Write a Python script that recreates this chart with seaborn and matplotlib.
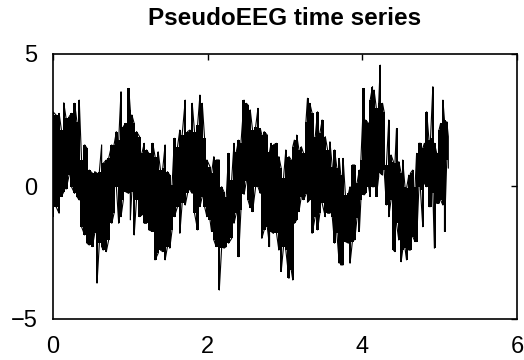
import matplotlib
matplotlib.use("Agg")
import matplotlib.pyplot as plt
import pandas as pd
import seaborn as sns

# Sample times (s) and the per-column extremes of the pseudo-EEG trace
time_s = [0.00, 0.04, 0.08, 0.11, 0.14, 0.17, 0.21, 0.24, 0.28, 0.31, 0.34, 0.37, 0.41, 0.44, 0.47, 0.51,
          0.54, 0.57, 0.60, 0.63, 0.65, 0.69, 0.72, 0.76, 0.79, 0.82, 0.85, 0.88, 0.91, 0.94, 0.98, 1.00,
          1.02, 1.05, 1.08, 1.12, 1.15, 1.18, 1.21, 1.24, 1.29, 1.32, 1.36, 1.39, 1.42, 1.45, 1.48, 1.51,
          1.54, 1.57, 1.61, 1.64, 1.67, 1.71, 1.74, 1.77, 1.80, 1.83, 1.87, 1.90, 1.93, 1.96, 1.99, 2.03,
          2.05, 2.08, 2.11, 2.15, 2.18, 2.21, 2.24, 2.27, 2.31, 2.34, 2.37, 2.40, 2.43, 2.47, 2.50, 2.52,
          2.55, 2.58, 2.62, 2.65, 2.68, 2.70, 2.73, 2.77, 2.80, 2.82, 2.85, 2.89, 2.92, 2.95, 2.98, 3.01, 3.05,
          3.08, 3.10, 3.12, 3.15, 3.18, 3.21, 3.24, 3.27, 3.29, 3.32, 3.35, 3.39, 3.42, 3.45, 3.48, 3.52,
          3.55, 3.58, 3.61, 3.64, 3.67, 3.70, 3.72, 3.75, 3.78, 3.82, 3.84, 3.87, 3.90, 3.93, 3.96, 3.98,
          4.02, 4.04, 4.08,
          4.10, 4.13, 4.15, 4.18, 4.21, 4.23, 4.26, 4.28, 4.31, 4.34, 4.37, 4.40, 4.42, 4.44, 4.47, 4.50,
          4.52, 4.55, 4.57, 4.60, 4.62, 4.65, 4.68, 4.70, 4.73, 4.75, 4.78, 4.80, 4.83, 4.86, 4.88, 4.91,
          4.93, 4.96, 4.99, 5.01, 5.04, 5.06, 5.09, 5.11]

upper = [2.82, 2.70, 2.76, 2.13, 3.16, 2.57, 2.64, 2.76, 3.14, 2.45, 3.26, 1.00, 1.57, 1.44, 0.62, 0.50,
         0.56, 0.50, 0.56, 1.57, 0.87, 1.00, 1.06, 1.57, 1.57, 2.07, 1.75, 3.58, 2.26, 2.38, 3.70, 2.89,
         2.70, 2.38, 2.07, 1.88, 1.25, 1.63, 1.38, 1.25, 1.63, 1.13, 1.31, 0.62, 0.69, 1.57, 0.56, 0.43,
         0.06, 1.82, 1.50, 2.13, 1.94, 3.26, 2.07, 2.13, 3.14, 2.07, 2.32, 3.45, 3.14, 1.82, 1.00, 0.75,
         0.50, 1.13, 1.00, 1.00, -0.01, -0.20, -0.38, 1.25, 0.25, 1.63, 1.31, 1.75, 1.63, 3.26, 3.14, 3.08,
         2.89, 2.13, 2.26, 2.95, 2.19, 1.94, 2.07, 1.94, 1.31, 1.63, 1.57, 1.63, 1.13, 0.69, 0.31, 1.38, 1.13,
         1.00, 1.50, 1.75, 1.94, 1.38, 1.50, 1.25, 2.45, 3.33, 3.14, 2.76, 1.88, 2.82, 2.01, 2.51, 1.88,
         1.38, 1.69, 0.75, 1.38, 0.69, 1.06, 0.43, 1.06, -0.32, -0.26, -0.01, 0.81, 0.81, 0.12, 0.62, 1.00,
         3.70, 2.51, 2.38,
         3.26, 3.77, 3.64, 2.95, 3.14, 4.58, 3.14, 2.82, 0.81, 2.51, 1.19, 0.94, 0.87, 2.19, 0.94, 0.50,
         1.00, -0.01, -0.07, 0.43, 0.50, 0.62, -0.01, 1.25, 1.63, 1.63, 1.44, 1.63, 2.82, 1.75, 1.82, 3.77,
         1.63, 1.25, 2.13, 2.38, 3.26, 2.51, 2.45, 1.88]

lower = [-1.14, -0.76, -1.01, -0.38, -0.20, -0.10, 0.43, -0.01, -0.26, -0.38, -0.51, -1.52, -1.83, -2.14, -2.21, -2.27,
         -1.77, -3.65, -2.14, -2.27, -2.40, -2.46, -2.02, -1.39, -1.01, -0.01, -1.39, -1.14, -0.51, -0.20, -0.26, -1.26,
         -0.20, -1.83, -0.51, -1.14, -1.08, -1.39, -1.39, -1.64, -1.70, -2.77, -2.52, -2.40, -2.46, -2.77, -2.27, -2.33,
         -1.64, -1.14, -0.76, -1.77, -0.64, -0.70, -0.26, -0.13, -0.26, -1.01, -1.64, -0.76, -0.38, -0.76, -1.14, -1.26,
         -1.70, -2.02, -2.27, -3.91, -2.33, -2.33, -2.27, -2.14, -1.96, -1.39, -1.01, -2.65, -0.89, -0.30, 0.20, -0.50,
         -0.80, -0.95, -0.01, -0.01, -0.26, -1.96, -1.64, -1.52, -2.27, -1.70, -1.77, -1.77, -2.40, -3.21, -2.27, -2.40, -3.47,
         -3.15, -3.53, -1.39, -1.26, -0.95, -0.38, -0.50, -0.30, -0.60, -0.50, -1.77, -1.14, -1.64, -1.01, -0.64, -1.14,
         -1.01, -1.01, -1.14, -2.14, -1.77, -2.90, -2.96, -2.96, -2.08, -2.14, -2.90, -2.08, -2.02, -1.20, -1.70, -0.51,
         -0.32, -0.26, -0.01,
         -0.38, -0.01, -0.01, -0.38, 0.37, 0.50, 0.43, 0.62, -0.70, -1.14, -0.51, -2.40, -2.46, -1.39, -2.02, -2.84,
         -2.40, -2.33, -2.77, -2.40, -2.40, -1.89, -2.08, -2.08, -0.01, -0.13, -1.52, 0.12, -0.01, -0.76, -0.76, -0.26,
         -2.33, -0.64, -0.64, -0.51, -0.70, -1.70, 1.00, 0.69]

x_ticks = [0, 2, 4, 6]
y_ticks = [-5, 0, 5]
title = "PseudoEEG time series"

# Trace each column from one extreme to the other, alternating direction
rows = []
for i, (t, lo, hi) in enumerate(zip(time_s, lower, upper)):
    pair = (lo, hi) if i % 2 == 0 else (hi, lo)
    rows.append((t, pair[0]))
    rows.append((t, pair[1]))
trace = pd.DataFrame(rows, columns=["t", "v"])

sns.set_style("white")
plt.rcParams["font.family"] = ["Liberation Sans", "DejaVu Sans"]
plt.rcParams["text.color"] = "black"

fig = plt.figure(figsize=(5.24, 3.60), dpi=100)
ax = fig.add_axes([0.101, 0.114, 0.886, 0.736])

# Dense band of the signal, one column per sample time
ax.fill_between(time_s, lower, upper, step="mid", color="black", linewidth=0)
sns.lineplot(data=trace, x="t", y="v", sort=False, estimator=None, color="black",
             linewidth=0.8, ax=ax)

ax.set_xlim(0, 6)
ax.set_ylim(-5, 5)
ax.set_xticks(x_ticks)
ax.set_yticks(y_ticks)
ax.set_xlabel("")
ax.set_ylabel("")
ax.tick_params(direction="in", length=4, width=1, top=True, right=True,
               labelsize=17, colors="black")
ax.tick_params(axis="x", pad=12)
ax.tick_params(axis="y", pad=11)
for side in ax.spines.values():
    side.set_visible(True)
    side.set_color("black")
    side.set_linewidth(1.2)

ax.set_title(title, fontsize=17.5, fontweight="bold", color="black", pad=21)

fig.savefig("out.png", dpi=100, facecolor="white")
